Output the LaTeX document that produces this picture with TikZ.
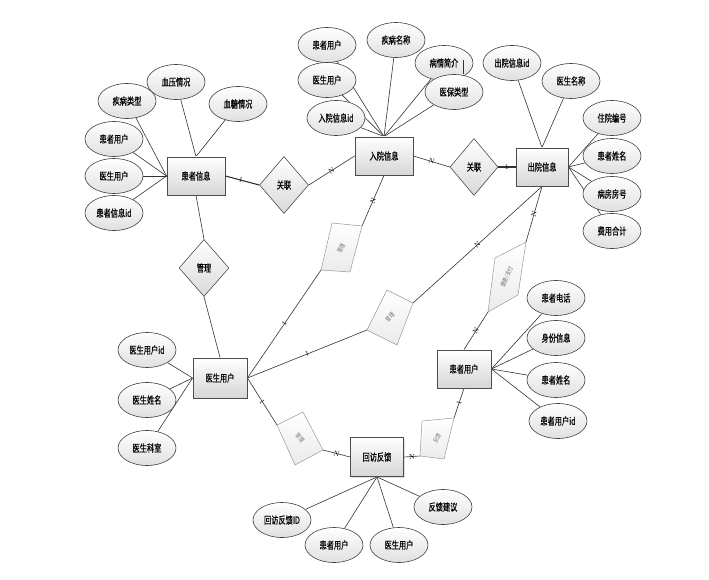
\documentclass[tikz,border=0pt]{standalone}
\usepackage{fontspec}
\newfontfamily\cjk[FakeStretch=0.72,FakeBold=0.5]{Noto Sans CJK SC}
\newfontfamily\cjklight[FakeStretch=0.8]{Noto Sans CJK SC}
\usetikzlibrary{shapes.geometric,shadows}
\pgfdeclarelayer{bg}
\pgfsetlayers{bg,main}
\begin{document}
\begin{tikzpicture}[x=1pt,y=-1pt,
 txt/.style={font=\cjk\fontsize{10}{11}\selectfont},
 ent/.style={txt,draw=black!70,line width=0.9pt,rectangle,top color=white,bottom color=black!16,minimum width=58,minimum height=38,inner sep=1pt,drop shadow={opacity=0.25,shadow xshift=1.2pt,shadow yshift=-1.2pt}},
 attr/.style={txt,draw=black!75,line width=0.6pt,ellipse,top color=white,bottom color=black!12,minimum width=58,minimum height=35,inner sep=0pt},
 rel/.style={txt,draw=black!70,line width=0.6pt,diamond,top color=white,bottom color=black!15,inner sep=0pt},
 conn/.style={draw=black!80,line width=0.6pt},
 thick conn/.style={draw=black!80,line width=1.1pt},
 card/.style={font=\fontsize{7}{7}\selectfont,sloped,inner sep=0.5pt},
 soft/.style={draw=black!40,line width=0.5pt,top color=white,bottom color=black!8},
 softtxt/.style={font=\cjklight\fontsize{6}{6}\selectfont,text=black!55,inner sep=0pt}
]
\useasboundingbox (0,0) rectangle (709,580);

% entities
\node[ent] (pi) at (196,176) {患者信息};
\node[ent] (ry) at (384,156) {入院信息};
\node[ent,minimum width=52] (cy) at (542,167) {出院信息};
\node[ent,minimum width=54,minimum height=40] (ys) at (220,378) {医生用户};
\node[ent,minimum width=54] (hz) at (464,369) {患者用户};
\node[ent,minimum width=53,minimum height=39] (hf) at (377,457) {回访反馈};

% relationships
\node[rel,minimum width=49,minimum height=57] (d1) at (284,185) {关联};
\node[rel,minimum width=48,minimum height=57] (d2) at (474,167) {关联};
\node[rel,minimum width=50,minimum height=57] (d3) at (204,268) {管理};

% attributes
\node[attr] (a1) at (127,101) {疾病类型};
\node[attr] (a2) at (176,82) {血压情况};
\node[attr] (a3) at (238,104) {血糖情况};
\node[attr] (a4) at (114,139) {患者用户};
\node[attr] (a5) at (114,176) {医生用户};
\node[attr] (a6) at (114,213) {患者信息id};

\node[attr] (b1) at (327,45) {患者用户};
\node[attr] (b2) at (396,40) {疾病名称};
\node[attr] (b3) at (327,80) {医生用户};
\node[attr] (b4) at (336,118) {入院信息id};
\node[attr] (b5) at (444,63) {病情简介};
\coordinate (t1) at (463,60);
\coordinate (t2) at (463,74);
\draw[conn] (t1) -- (t2);
\node[attr] (b6) at (454,92) {医保类型};

\node[attr] (c1) at (512,63) {出院信息id};
\node[attr] (c2) at (571,81) {医生名称};
\node[attr] (c3) at (612,118) {住院编号};
\node[attr] (c4) at (612,156) {患者姓名};
\node[attr] (c5) at (612,194) {病房房号};
\node[attr] (c6) at (612,231) {费用合计};

\node[attr] (e1) at (147,350) {医生用户id};
\node[attr] (e2) at (147,400) {医生姓名};
\node[attr] (e3) at (147,448) {医生科室};

\node[attr] (f1) at (556,298) {患者电话};
\node[attr] (f2) at (556,338) {身份信息};
\node[attr] (f3) at (556,380) {患者姓名};
\node[attr] (f4) at (558,421) {患者用户id};

\node[attr] (g1) at (282,520) {回访反馈ID};
\node[attr] (g2) at (334,545) {患者用户};
\node[attr] (g3) at (399,545) {医生用户};
\node[attr] (g4) at (443,507) {反馈建议};

% skewed (light) relationship shapes
\coordinate (p1a) at (332,223); \coordinate (p1b) at (362,226);
\coordinate (p1c) at (350,272); \coordinate (p1d) at (321,270);
\draw[soft] (p1a) -- (p1b) -- (p1c) -- (p1d) -- cycle;
\node[softtxt,rotate=62] (p1t) at (341,248) {管理};

\coordinate (p2a) at (387,290); \coordinate (p2b) at (413,303);
\coordinate (p2c) at (397,345); \coordinate (p2d) at (367,330);
\draw[soft] (p2a) -- (p2b) -- (p2c) -- (p2d) -- cycle;
\node[softtxt,rotate=45] (p2t) at (390,317) {管理};

\coordinate (p3a) at (495,258); \coordinate (p3b) at (526,242);
\coordinate (p3c) at (518,295); \coordinate (p3d) at (488,312);
\draw[soft] (p3a) -- (p3b) -- (p3c) -- (p3d) -- cycle;
\node[softtxt,rotate=65] (p3t) at (507,277) {缴费/支付};

\coordinate (p4a) at (303,412); \coordinate (p4b) at (323,450);
\coordinate (p4c) at (295,465); \coordinate (p4d) at (277,425);
\draw[soft] (p4a) -- (p4b) -- (p4c) -- (p4d) -- cycle;
\node[softtxt,rotate=-50] (p4t) at (300,438) {管理};

\coordinate (p5a) at (422,421); \coordinate (p5b) at (454,418);
\coordinate (p5c) at (444,459); \coordinate (p5d) at (420,456);
\draw[soft] (p5a) -- (p5b) -- (p5c) -- (p5d) -- cycle;
\node[softtxt,rotate=60] (p5t) at (437,438) {反馈};

\begin{pgfonlayer}{bg}
% attribute lines
\foreach \n in {a1,a4,a5,a6} \draw[conn] (\n) -- (pi.west);
\foreach \n in {a2,a3} \draw[conn] (\n) -- (pi.north);
\foreach \n in {b1,b2,b3,b4,b5,b6} \draw[conn] (\n) -- (ry.north);
\foreach \n in {c1,c2} \draw[conn] (\n) -- (cy.north);
\foreach \n in {c3,c4,c5,c6} \draw[conn] (\n) -- (cy.east);
\foreach \n in {e1,e2,e3} \draw[conn] (\n) -- (ys.west);
\foreach \n in {f1,f2,f3,f4} \draw[conn] (\n) -- (hz.east);
\foreach \n in {g1,g2,g3,g4} \draw[conn] (\n) -- (hf.south);

% relationship lines
\draw[thick conn] (pi.east) -- node[card,pos=0.46]{1} (d1.west);
\draw[conn] (ry.west) -- node[card]{N} (d1.east);
\draw[conn] (ry.east) -- node[card]{N} (d2.west);
\draw[thick conn] (d2.east) -- node[card]{1} (cy.west);
\draw[conn] (pi.south) -- (d3.north);
\draw[conn] (d3.south) -- (ys.north);

\draw[conn] (ys.east) -- node[card]{1} (p1d);
\draw[conn] (p1b) -- node[card]{N} (ry.south);
\draw[conn] (ys.east) -- node[card]{1} (p2d);
\draw[conn] (p2b) -- node[card]{N} (cy.south);
\draw[conn] (cy.south) -- node[card]{N} (p3b);
\draw[conn] (p3d) -- node[card]{N} (hz.north);
\draw[conn] (ys.east) -- node[card]{1} (p4d);
\draw[conn] (p4b) -- node[card]{N} (hf.west);
\draw[conn] (hz.south) -- node[card]{1} (p5b);
\draw[conn] (p5d) -- node[card]{N} (hf.east);
\end{pgfonlayer}
\end{tikzpicture}
\end{document}
